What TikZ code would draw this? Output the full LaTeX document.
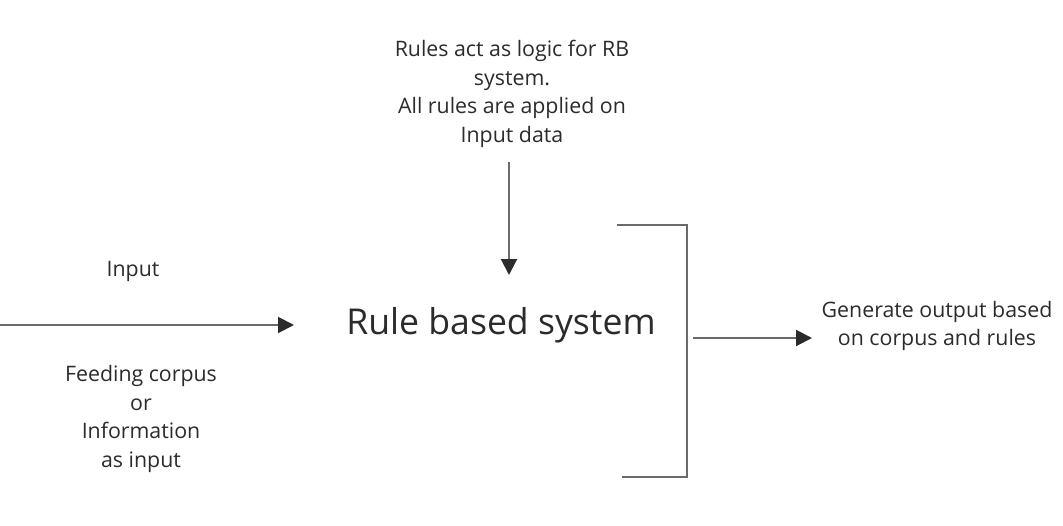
\documentclass[tikz,border=0pt]{standalone}
\usepackage{fontspec}
\setmainfont{Open Sans}
\usetikzlibrary{arrows.meta}
\definecolor{linegray}{HTML}{6A6A6A}
\definecolor{textgray}{HTML}{2B2B2B}

\begin{document}
\begin{tikzpicture}[x=0.75pt,y=-0.75pt]
      \useasboundingbox (0,0) rectangle (1063,525);
      \begin{scope}[every node/.style={align=center,text=textgray,font=\fontsize{16}{21.4}\selectfont}]
        \node (rules) at (512,94) {Rules act as logic for RB\\system.\\All rules are applied on\\Input data};
        \node (input) at (133,271) {Input};
        \node (rbs) at (501,325) [font=\fontsize{26.7}{30}\selectfont] {Rule based system};
        \node (feed) at (141,419) {Feeding corpus\\or\\Information\\as input};
        \node (gen) at (937,326) {Generate output based\\on corpus and rules};
      \end{scope}
      % connector ends
      \coordinate (rtop) at (509,162);
      \coordinate (rtip) at (509,275);
      \coordinate (in) at (0,325);
      \coordinate (intip) at (294,325);
      \coordinate (out) at (693,338);
      \coordinate (outtip) at (812,338);
      % bracket
      \coordinate (btop) at (617,225);
      \coordinate (bup) at (687,225);
      \coordinate (blow) at (687,477);
      \coordinate (bbot) at (622,477);
      \draw[draw=linegray,line width=1.5pt] (btop) -- (bup) -- (blow) -- (bbot);
      \begin{scope}[every edge/.style={draw=linegray,line width=1.5pt,-{Triangle[length=12pt,width=12pt,color=textgray]}}]
        \path (rtop) edge (rtip);
        \path (in) edge (intip);
        \path (out) edge (outtip);
      \end{scope}
    \end{tikzpicture}
\end{document}
